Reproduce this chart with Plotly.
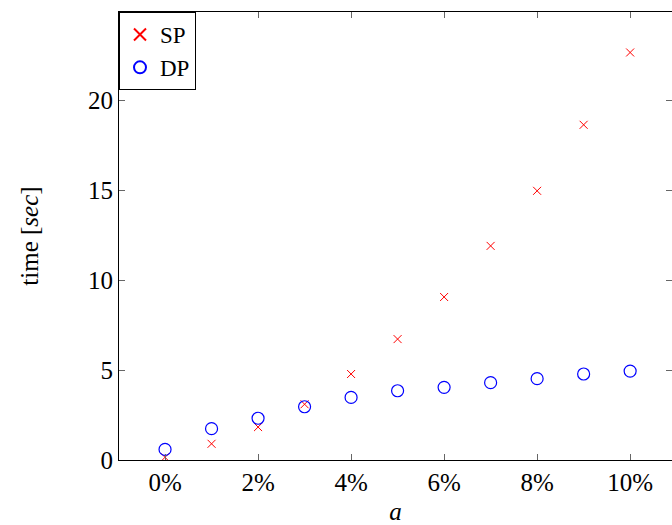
import plotly.graph_objects as go

a_vals = [0, 1, 2, 3, 4, 5, 6, 7, 8, 9, 10]
sp_time = [0.15, 0.9, 1.83, 3.1, 4.78, 6.72, 9.06, 11.9, 14.96, 18.63, 22.65]
dp_time = [0.59, 1.74, 2.32, 2.96, 3.48, 3.85, 4.04, 4.3, 4.52, 4.78, 4.94]
x_tickvals = [0, 2, 4, 6, 8, 10]
x_ticktext = ["0%", "2%", "4%", "6%", "8%", "10%"]
y_tickvals = [0, 5, 10, 15, 20]

FONT = "Liberation Serif"
FS = 25

fig = go.Figure()
fig.add_trace(go.Scatter(
    x=a_vals, y=sp_time, mode="markers", name="SP",
    marker=dict(symbol="x-thin-open", size=8, color="red",
                line=dict(color="red", width=1)),
))
fig.add_trace(go.Scatter(
    x=a_vals, y=dp_time, mode="markers", name="DP",
    marker=dict(symbol="circle-open", size=12, color="blue",
                line=dict(color="blue", width=1.2)),
))

fig.update_layout(
    width=672, height=525,
    margin=dict(l=119, r=0, t=12, b=65),
    paper_bgcolor="white", plot_bgcolor="white",
    font=dict(family=FONT, size=FS, color="black"),
    showlegend=True,
    legend=dict(x=0, y=1, xanchor="left", yanchor="top",
                bordercolor="black", borderwidth=1, bgcolor="white",
                font=dict(family=FONT, size=23),
                itemwidth=30, tracegroupgap=0,
                itemsizing="constant"),
    xaxis=dict(
        range=[-0.99, 10.9], tickvals=x_tickvals, ticktext=x_ticktext,
        showgrid=False, zeroline=False,
        showline=True, linecolor="black", linewidth=1, mirror="ticks",
        ticks="inside", ticklen=6, tickcolor="#666", tickwidth=1,
        tickfont=dict(family=FONT, size=FS),
        title=dict(text="<i>a</i>", font=dict(family=FONT, size=FS), standoff=8),
    ),
    yaxis=dict(
        range=[0, 24.9], tickvals=y_tickvals,
        showgrid=False, zeroline=False,
        showline=True, linecolor="black", linewidth=1, mirror="ticks",
        ticks="inside", ticklen=6, tickcolor="#666", tickwidth=1,
        tickfont=dict(family=FONT, size=FS),
        title=dict(text="time [<i>sec</i>]", font=dict(family=FONT, size=FS), standoff=42),
    ),
)

fig.write_html("out.html")
